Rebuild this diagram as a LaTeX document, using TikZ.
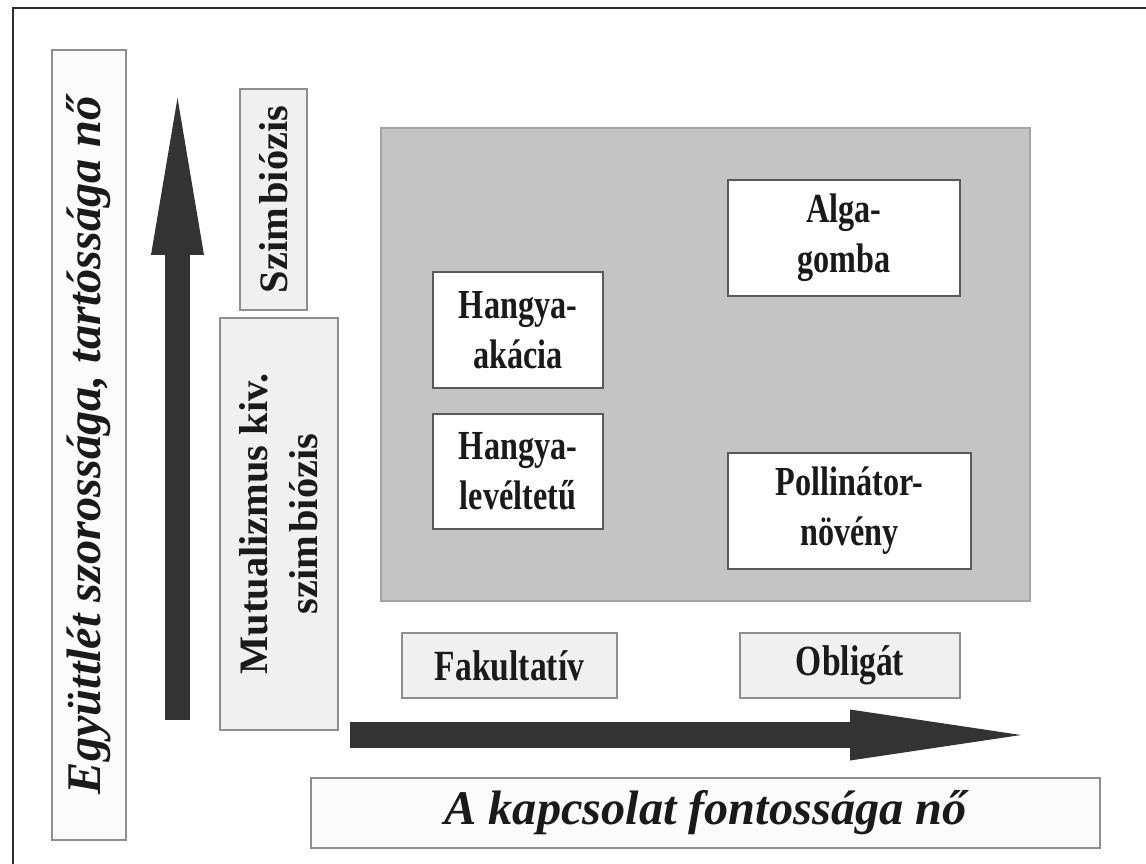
\documentclass[tikz,border=0pt]{standalone}
\usepackage{fontspec}
\setmainfont{Liberation Serif}
\newfontfamily\condfont[FakeStretch=0.78]{Liberation Serif}
\usetikzlibrary{arrows.meta}
\definecolor{frameline}{HTML}{2E2E2E}
\definecolor{arrowfill}{HTML}{333333}
\definecolor{fieldgray}{HTML}{C4C4C4}
\definecolor{fieldline}{HTML}{A4A4A4}
\definecolor{tagfill}{HTML}{F0F0F0}
\definecolor{tagline}{HTML}{8E8E8E}
\definecolor{axisfill}{HTML}{FBFBFB}
\definecolor{pairline}{HTML}{5A5A5A}
\definecolor{inktext}{HTML}{1A1A1A}

\begin{document}
\begin{tikzpicture}[x=0.02cm, y=-0.02cm,
  pairbox/.style={draw=pairline, line width=0.03cm, fill=white, align=center,
    text=inktext, inner sep=0pt,
    font=\condfont\bfseries\fontsize{23.5}{28.5}\selectfont},
  tagbox/.style={draw=tagline, line width=0.03cm, fill=tagfill, align=center,
    text=inktext, inner sep=0pt,
    font=\condfont\bfseries\fontsize{24.5}{28.5}\selectfont},
  sidetag/.style={draw=tagline, line width=0.03cm, fill=tagfill, align=center,
    text=inktext, inner sep=0pt, rotate=90,
    font=\bfseries\fontsize{23}{28.5}\selectfont},
  axisbox/.style={draw=tagline, line width=0.03cm, fill=axisfill,
    text=inktext, inner sep=0pt,
    font=\bfseries\itshape\fontsize{27.5}{32}\selectfont},
  axisarrow/.style={arrowfill, line width=#1}
]

\useasboundingbox (0,0) rectangle (1146,863);

% Outer frame (runs past the picture on the right and bottom)
\draw[frameline, line width=0.05cm] (13,8) rectangle (1175,885);

% --- Vertical axis ---
\node[axisbox, rotate=90, minimum width=15.8cm, minimum height=1.48cm]
  (closeness) at (89,445) {Együttlét szorossága, tartóssága nő};

\coordinate (ybot) at (177.5,720);
\coordinate (ytop) at (177.5,98);
\draw[axisarrow=0.5cm, -{Triangle[length=3.14cm, width=1.06cm, line width=0pt]}]
  (ybot) -- (ytop);

\node[sidetag, minimum width=4.42cm, minimum height=1.34cm]
  (symb) at (273.5,199.5) {Szim\kern0.08em biózis};
\node[sidetag, minimum width=8.24cm, minimum height=2.36cm]
  (mutual) at (279,524) {Mutualizmus kiv.\\szim\kern0.08em biózis};

% --- Field of examples ---
\node[draw=fieldline, line width=0.03cm, fill=fieldgray,
      minimum width=12.98cm, minimum height=9.46cm] (field) at (705.5,364.5) {};

\node[pairbox, minimum width=3.4cm, minimum height=2.32cm]
  (antacacia) at (518,330) {Hangya-\\akácia};
\node[pairbox, minimum width=3.4cm, minimum height=2.3cm]
  (antaphid) at (518,471.5) {Hangya-\\levéltetű};
\node[pairbox, minimum width=4.64cm, minimum height=2.32cm]
  (lichen) at (844,238) {Alga-\\gomba};
\node[pairbox, minimum width=4.86cm, minimum height=2.32cm]
  (pollinator) at (849.5,511) {Pollinátor-\\növény};

% --- Horizontal axis ---
\node[tagbox, minimum width=4.3cm, minimum height=1.3cm]
  (facult) at (509.5,665.5) {Fakultatív};
\node[tagbox, minimum width=4.4cm, minimum height=1.3cm]
  (oblig) at (850,665.5) {Obligát};

\coordinate (xbot) at (350,735);
\coordinate (xtop) at (1021,735);
\draw[axisarrow=0.52cm, -{Triangle[length=3.42cm, width=1.02cm, line width=0pt]}]
  (xbot) -- (xtop);

\node[axisbox, minimum width=15.78cm, minimum height=1.4cm]
  (importance) at (705.5,813) {A kapcsolat fontossága nő};

\end{tikzpicture}
\end{document}
